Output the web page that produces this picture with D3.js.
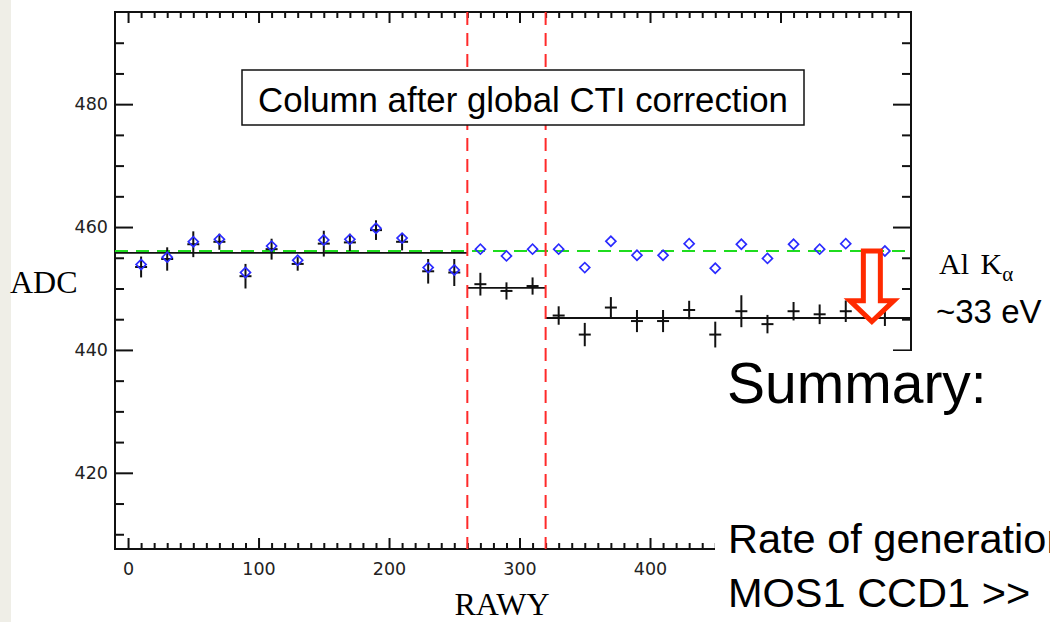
<!DOCTYPE html>
<html>
<head>
<meta charset="utf-8">
<script src="https://cdn.jsdelivr.net/npm/d3@7"></script>
<style>
  html, body { margin: 0; padding: 0; background: #fff; overflow: hidden; }
  svg { display: block; }
</style>
</head>
<body>
<svg id="chart" width="1050" height="622"></svg>
<script>
"use strict";

// RAWY bin centres
const rawy    = [ 10, 30, 50, 70, 90, 110, 130, 150, 170, 190, 210, 230, 250,
                  270, 290, 310,
                  330, 350, 370, 390, 410, 430, 450, 470, 490, 510, 530, 550, 580 ];
// line centre before the column correction (black crosses)
const adcRaw  = [ 453.5, 454.8, 457.2, 457.6, 452.0, 456.4, 454.0, 457.3, 457.5, 459.5, 457.6, 452.8, 452.6,
                  450.7, 449.6, 450.4,
                  445.6, 442.5, 446.9, 444.7, 444.7, 446.5, 442.5, 446.3, 444.2, 446.3, 445.8, 446.3, 445.2 ];
// line centre after correction (blue diamonds)
const adcCorr = [ 453.9, 455.1, 457.6, 458.0, 452.6, 456.9, 454.6, 457.9, 458.0, 459.8, 458.2, 453.4, 453.0,
                  456.4, 455.3, 456.4,
                  456.4, 453.4, 457.7, 455.4, 455.4, 457.3, 453.3, 457.2, 454.9, 457.2, 456.4, 457.3, 456.1 ];
// 1 sigma errors
const adcErr  = [ 1.7, 1.9, 2.1, 1.3, 2.0, 1.7, 1.1, 2.1, 1.4, 1.6, 1.4, 2.0, 2.2,
                  1.85, 1.4, 1.4,
                  1.5, 1.9, 1.7, 1.8, 1.8, 1.5, 2.1, 2.6, 1.5, 1.5, 1.6, 1.75, 1.3 ];

// step fit of the raw values
const stepFrom = [ -10, 260, 320 ];
const stepTo   = [ 260, 320, 600 ];
const stepAdc  = [ 455.8, 450.1, 445.2 ];

// Al K-alpha reference level and the segment boundaries
const alKa     = 456.1;
const cutRawy  = [ 260, 320 ];

const xMajor   = [ 0, 100, 200, 300, 400, 500 ];
const xLabels  = [ 0, 100, 200, 300, 400 ];   // 500 sits under the slide text
const yMajor   = [ 420, 440, 460, 480 ];

// plot frame
const margin = { top: 12, right: 139, bottom: 73, left: 115 },
      W = 1050, H = 622;

const x = d3.scaleLinear().domain([ -10, 600 ]).range([ margin.left, W - margin.right ]);
const y = d3.scaleLinear().domain([ 407.6, 495 ]).range([ H - margin.bottom, margin.top ]);

const svg = d3.select('#chart');

// slide strip on the left
svg.append('rect')
    .attr('x', 0).attr('y', 0)
    .attr('width', 11).attr('height', H)
    .attr('fill', '#efeee7');

const xMinor = d3.range(0, 600, 10).filter( (v) => v % 100 !== 0 ),
      yMinor = d3.range(410, 495, 5).filter( (v) => v % 20 !== 0 );

const tickFont = (g) => g.selectAll('text')
    .attr('font-family', 'DejaVu Sans')
    .attr('font-size', 17.5)
    .attr('fill', '#222');

function axisLine( g ) {
  g.select('.domain').remove();
  g.selectAll('.tick line').attr('stroke', '#111').attr('stroke-width', 2);
}

// bottom axis
svg.append('g')
    .attr('transform', 'translate(0,' + y.range()[0] + ')')
    .call( d3.axisBottom(x).tickValues(xLabels).tickSize(-11).tickPadding(14).tickFormat(d3.format('d')) )
    .call( axisLine ).call( tickFont );
svg.append('g')
    .attr('transform', 'translate(0,' + y.range()[0] + ')')
    .call( d3.axisBottom(x).tickValues(xMinor).tickSize(-6).tickFormat('') )
    .call( axisLine );

// top axis
svg.append('g')
    .attr('transform', 'translate(0,' + y.range()[1] + ')')
    .call( d3.axisTop(x).tickValues(xMajor).tickSize(-11).tickFormat('') )
    .call( axisLine );
svg.append('g')
    .attr('transform', 'translate(0,' + y.range()[1] + ')')
    .call( d3.axisTop(x).tickValues(xMinor).tickSize(-6).tickFormat('') )
    .call( axisLine );

// left axis
svg.append('g')
    .attr('transform', 'translate(' + x.range()[0] + ',0)')
    .call( d3.axisLeft(y).tickValues(yMajor).tickSize(-18).tickPadding(7) )
    .call( axisLine ).call( tickFont );
svg.append('g')
    .attr('transform', 'translate(' + x.range()[0] + ',0)')
    .call( d3.axisLeft(y).tickValues(yMinor).tickSize(-9).tickFormat('') )
    .call( axisLine );

// right axis
svg.append('g')
    .attr('transform', 'translate(' + x.range()[1] + ',0)')
    .call( d3.axisRight(y).tickValues(yMajor).tickSize(-18).tickFormat('') )
    .call( axisLine );
svg.append('g')
    .attr('transform', 'translate(' + x.range()[1] + ',0)')
    .call( d3.axisRight(y).tickValues(yMinor).tickSize(-9).tickFormat('') )
    .call( axisLine );

// frame
svg.append('rect')
    .attr('x', x.range()[0]).attr('y', y.range()[1])
    .attr('width', x.range()[1] - x.range()[0])
    .attr('height', y.range()[0] - y.range()[1])
    .attr('fill', 'none').attr('stroke', '#111').attr('stroke-width', 2);

// Al K-alpha level
svg.append('line')
    .attr('x1', x(-10)).attr('x2', x(600))
    .attr('y1', y(alKa)).attr('y2', y(alKa))
    .attr('stroke', '#1fdc1f').attr('stroke-width', 2.2)
    .attr('stroke-dasharray', '13,8');

// step fit
svg.selectAll('.step')
    .data(stepAdc)
  .enter().append('line')
    .attr('class', 'step')
    .attr('x1', (d, i) => x(stepFrom[i]) )
    .attr('x2', (d, i) => x(stepTo[i]) )
    .attr('y1', (d) => y(d) )
    .attr('y2', (d) => y(d) )
    .attr('stroke', '#111').attr('stroke-width', 1.8);

// segment boundaries
svg.selectAll('.cut')
    .data(cutRawy)
  .enter().append('line')
    .attr('class', 'cut')
    .attr('x1', (d) => x(d) ).attr('x2', (d) => x(d) )
    .attr('y1', y.range()[1]).attr('y2', y.range()[0])
    .attr('stroke', '#ff2a2a').attr('stroke-width', 2)
    .attr('stroke-dasharray', '13,8');

// raw values: plus with error bar
const pts = rawy.map( (r, i) => ({ r: r, raw: adcRaw[i], corr: adcCorr[i], err: adcErr[i] }) );

const cross = svg.selectAll('.cross')
    .data(pts)
  .enter().append('g')
    .attr('class', 'cross')
    .attr('stroke', '#111').attr('stroke-width', 2);
cross.append('line')
    .attr('x1', (d) => x(d.r) ).attr('x2', (d) => x(d.r) )
    .attr('y1', (d) => y(d.raw + d.err) )
    .attr('y2', (d) => y(d.raw - d.err) );
cross.append('line')
    .attr('x1', (d) => x(d.r) - 6 ).attr('x2', (d) => x(d.r) + 6 )
    .attr('y1', (d) => y(d.raw) ).attr('y2', (d) => y(d.raw) );

// corrected values
svg.selectAll('.diam')
    .data(pts)
  .enter().append('path')
    .attr('class', 'diam')
    .attr('d', d3.symbol(d3.symbolSquare, 50))
    .attr('transform', (d) => 'translate(' + x(d.r) + ',' + y(d.corr) + ') rotate(45)')
    .attr('fill', 'none').attr('stroke', '#2b2bff').attr('stroke-width', 1.7);

// shift arrow
const ax = x(570), aTop = y(alKa), aTip = y(444.6), aNeck = aTip - 21;
svg.append('path')
    .attr('d', 'M' + (ax - 8.5) + ',' + aTop + 'H' + (ax + 8.5) + 'V' + aNeck +
               'H' + (ax + 22) + 'L' + ax + ',' + aTip + 'L' + (ax - 22) + ',' + aNeck +
               'H' + (ax - 8.5) + 'Z')
    .attr('fill', '#fff').attr('stroke', '#ff2a00').attr('stroke-width', 5)
    .attr('stroke-linejoin', 'miter');

// title box
svg.append('rect')
    .attr('x', 242).attr('y', 70).attr('width', 562).attr('height', 55)
    .attr('fill', '#fff').attr('stroke', '#111').attr('stroke-width', 1.5);
svg.append('text')
    .attr('x', 523).attr('y', 112)
    .attr('text-anchor', 'middle')
    .attr('font-family', 'Liberation Sans').attr('font-size', 34.8)
    .attr('fill', '#000')
    .text('Column after global CTI correction');

// axis titles
svg.append('text')
    .attr('x', 10).attr('y', 293)
    .attr('font-family', 'Liberation Serif').attr('font-size', 32)
    .text('ADC');
svg.append('text')
    .attr('x', 502).attr('y', 615)
    .attr('text-anchor', 'middle')
    .attr('font-family', 'Liberation Serif').attr('font-size', 32)
    .text('RAWY');

// slide covers the lower right of the plot
svg.append('rect')
    .attr('x', 715).attr('y', 351).attr('width', W - 715).attr('height', H - 351)
    .attr('fill', '#fff');

// right side annotations
const alLabel = svg.append('text')
    .attr('x', 939).attr('y', 274)
    .attr('font-family', 'Liberation Serif').attr('font-size', 30)
    .attr('word-spacing', 4);
alLabel.append('tspan').text('Al K');
alLabel.append('tspan').attr('dy', 7).attr('font-size', 21).text('α');

svg.append('text')
    .attr('x', 936).attr('y', 323)
    .attr('font-family', 'Liberation Sans').attr('font-size', 33)
    .text('~33 eV');

svg.append('text')
    .attr('x', 727).attr('y', 403)
    .attr('font-family', 'Liberation Sans').attr('font-size', 57)
    .text('Summary:');
svg.append('text')
    .attr('x', 728).attr('y', 553)
    .attr('font-family', 'Liberation Sans').attr('font-size', 41.5)
    .text('Rate of generation');
svg.append('text')
    .attr('x', 728).attr('y', 607)
    .attr('font-family', 'Liberation Sans').attr('font-size', 41.5)
    .text('MOS1 CCD1 >>');
</script>
</body>
</html>
